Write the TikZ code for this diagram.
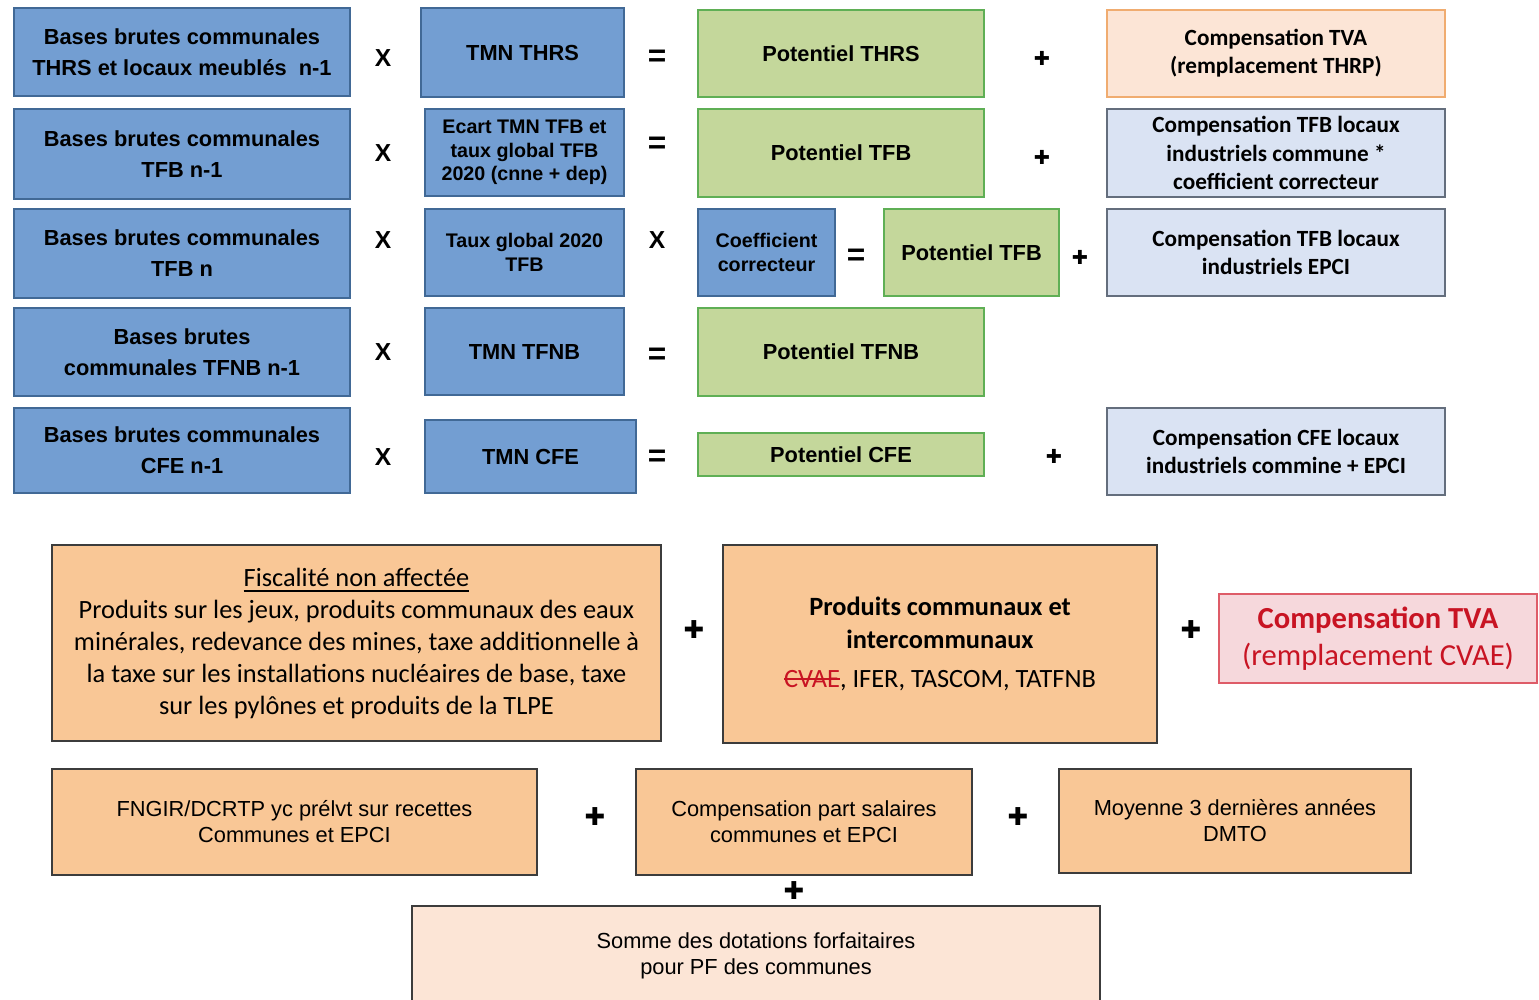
\documentclass[tikz,border=0pt]{standalone}
\usepackage{fontspec}
\setmainfont{Liberation Sans}
\newfontfamily\calib{Carlito}
\newfontfamily\symb{DejaVu Sans}

\definecolor{bluefill}{RGB}{115,158,210}
\definecolor{blueline}{RGB}{65,105,150}
\definecolor{greenfill}{RGB}{196,215,155}
\definecolor{greenline}{RGB}{95,175,85}
\definecolor{orangefill}{RGB}{249,199,150}
\definecolor{palefill}{RGB}{252,229,214}
\definecolor{paleline}{RGB}{240,172,112}
\definecolor{compfill}{RGB}{218,227,243}
\definecolor{compline}{RGB}{100,110,125}
\definecolor{tvafill}{RGB}{246,216,220}
\definecolor{tvaline}{RGB}{222,92,104}
\definecolor{tvatext}{RGB}{200,20,35}
\definecolor{darkline}{RGB}{60,60,60}

\newsavebox\strikebox
\newcommand\redstrike[1]{\sbox\strikebox{#1}\rlap{\usebox\strikebox}\textcolor{tvatext}{\rule[0.55ex]{\wd\strikebox}{0.7pt}}}

\begin{document}
\begin{tikzpicture}[x=0.01cm,y=-0.01cm,
  box/.style={draw, line width=0.65pt, align=center, inner sep=0pt},
  bluebox/.style={box, draw=blueline, fill=bluefill, font=\bfseries\fontsize{6.2}{8.8}\selectfont},
  greenbox/.style={box, draw=greenline, fill=greenfill, font=\bfseries\fontsize{6.2}{8.8}\selectfont},
  smallbox/.style={bluebox, font=\bfseries\fontsize{5.6}{6.7}\selectfont},
  compbox/.style={box, draw=compline, fill=compfill, font=\calib\bfseries\fontsize{6.6}{8}\selectfont},
  orangebox/.style={box, draw=darkline, fill=orangefill, font=\calib\fontsize{7.5}{9.1}\selectfont},
  lowbox/.style={box, draw=darkline, fill=orangefill, font=\fontsize{6.2}{7.4}\selectfont},
  opsign/.style={inner sep=0pt, font=\bfseries\fontsize{7}{7}\selectfont},
  eqsign/.style={inner sep=0pt, font=\bfseries\fontsize{9}{9}\selectfont},
  plussign/.style={inner sep=0pt, font=\symb\fontsize{5.5}{5.5}\selectfont}]

  \useasboundingbox (0,0) rectangle (1539,1000);

  % rows of the potentiel
  \node[bluebox, minimum width=3.36cm, minimum height=.88cm] (base1) at (182,52) {Bases brutes communales\\THRS et locaux meublés\ \ n-1};
  \node[bluebox, minimum width=2.03cm, minimum height=.89cm] (taux1) at (522.5,52.5) {TMN THRS};
  \node[greenbox, minimum width=2.86cm, minimum height=.87cm] (pot1) at (841,53.5) {Potentiel THRS};
  \node[compbox, draw=paleline, fill=palefill, minimum width=3.38cm, minimum height=.87cm] (comp1) at (1276,53.5) {Compensation TVA\\(remplacement THRP)};

  \node[bluebox, minimum width=3.36cm, minimum height=.90cm] (base2) at (182,154) {Bases brutes communales\\TFB n-1};
  \node[smallbox, minimum width=1.99cm, minimum height=.87cm] (taux2) at (524.5,152.5) {Ecart TMN TFB et\\taux global TFB\\2020 (cnne + dep)};
  \node[greenbox, minimum width=2.86cm, minimum height=.88cm] (pot2) at (841,153) {Potentiel TFB};
  \node[compbox, minimum width=3.38cm, minimum height=.88cm] (comp2) at (1276,153) {Compensation TFB locaux\\industriels commune *\\coefficient correcteur};

  \node[bluebox, minimum width=3.36cm, minimum height=.89cm] (base3) at (182,253.5) {Bases brutes communales\\TFB n};
  \node[smallbox, minimum width=1.99cm, minimum height=.87cm] (taux3) at (524.5,252.5) {Taux global 2020\\TFB};
  \node[smallbox, minimum width=1.37cm, minimum height=.87cm] (coef) at (766.5,252.5) {Coefficient\\correcteur};
  \node[greenbox, minimum width=1.75cm, minimum height=.87cm] (pot3) at (971.5,252.5) {Potentiel TFB};
  \node[compbox, minimum width=3.38cm, minimum height=.87cm] (comp3) at (1276,252.5) {Compensation TFB locaux\\industriels EPCI};

  \node[bluebox, minimum width=3.36cm, minimum height=.88cm] (base4) at (182,352) {Bases brutes\\communales TFNB n-1};
  \node[bluebox, minimum width=1.99cm, minimum height=.87cm] (taux4) at (524.5,351.5) {TMN TFNB};
  \node[greenbox, minimum width=2.86cm, minimum height=.88cm] (pot4) at (841,352) {Potentiel TFNB};

  \node[bluebox, minimum width=3.36cm, minimum height=.85cm] (base5) at (182,450.5) {Bases brutes communales\\CFE n-1};
  \node[bluebox, minimum width=2.11cm, minimum height=.73cm] (taux5) at (530.5,456.5) {TMN CFE};
  \node[greenbox, minimum width=2.86cm, minimum height=.43cm] (pot5) at (841,454.5) {Potentiel CFE};
  \node[compbox, minimum width=3.38cm, minimum height=.87cm] (comp5) at (1276,451.5) {Compensation CFE locaux\\industriels commine + EPCI};

  \foreach \x/\y in {383/58, 383/153, 383/240, 383/352, 383/457, 657/240}
    \node[opsign] (times-\x-\y) at (\x,\y) {X};
  \foreach \x/\y in {657/58, 657/145, 856/257, 657/356, 657/458}
    \node[eqsign] (eq-\x-\y) at (\x,\y) {=};
  \foreach \x/\y in {1042/58, 1042/157, 1080/257, 1054/456}
    \node[plussign] (plus-\x-\y) at (\x,\y) {✚};

  % other resources
  \node[orangebox, minimum width=6.09cm, minimum height=1.96cm] (fisc) at (356.5,643) {\underline{Fiscalité non affectée}\\Produits sur les jeux, produits communaux des eaux\\minérales, redevance des mines, taxe additionnelle à\\la taxe sur les installations nucléaires de base, taxe\\sur les pylônes et produits de la TLPE};
  \node[orangebox, minimum width=4.34cm, minimum height=1.98cm, font=\calib\fontsize{7.5}{9.4}\selectfont] (prod) at (940,644) {\textbf{Produits communaux et}\\\textbf{intercommunaux}\\[1.5pt]\textcolor{tvatext}{\redstrike{CVAE}}, IFER, TASCOM, TATFNB};
  \node[box, draw=tvaline, fill=tvafill, text=tvatext, minimum width=3.18cm, minimum height=.89cm, font=\calib\fontsize{8.7}{10.5}\selectfont] (cvae) at (1378,638.5) {\textbf{Compensation TVA}\\(remplacement CVAE)};

  \node[lowbox, minimum width=4.85cm, minimum height=1.06cm] (fngir) at (294.5,822) {FNGIR/DCRTP yc prélvt sur recettes\\Communes et EPCI};
  \node[lowbox, minimum width=3.36cm, minimum height=1.06cm] (salaires) at (804,822) {Compensation part salaires\\communes et EPCI};
  \node[lowbox, minimum width=3.52cm, minimum height=1.04cm] (dmto) at (1235,821) {Moyenne 3 dernières années\\DMTO};
  \node[lowbox, fill=palefill, minimum width=6.88cm, minimum height=1.00cm] (somme) at (756,956) {Somme des dotations forfaitaires\\pour PF des communes};

  \foreach \x/\y in {694/630, 1191/630, 595/817, 1018/817, 794/891}
    \node[plussign, font=\symb\fontsize{7}{7}\selectfont] (plus-\x-\y) at (\x,\y) {✚};
\end{tikzpicture}
\end{document}
